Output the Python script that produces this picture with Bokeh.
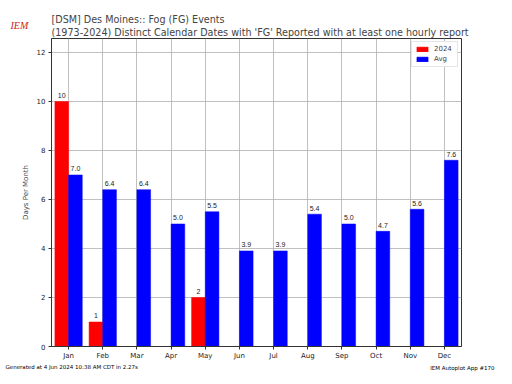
from bokeh.plotting import figure
from bokeh.models import FixedTicker, Label, Range1d, ColumnDataSource, LegendItem, Legend, Title
from bokeh.embed import file_html
from bokeh.resources import INLINE

months = ["Jan", "Feb", "Mar", "Apr", "May", "Jun", "Jul", "Aug", "Sep", "Oct", "Nov", "Dec"]
avg_days = [7.0, 6.4, 6.4, 5.0, 5.5, 3.9, 3.9, 5.4, 5.0, 4.7, 5.6, 7.6]
days_2024 = [10, 1, 0, 0, 2]
y_ticks = [0, 2, 4, 6, 8, 10, 12]

FONT = "DejaVu Sans"

xs = list(range(1, 13))
src_avg = ColumnDataSource(dict(x=[x + 0.2 for x in xs], top=avg_days,
                                lab=["%.1f" % v for v in avg_days],
                                ly=[v + 0.15 for v in avg_days]))
x24 = [i + 1 - 0.2 for i in range(len(days_2024))]
src_24 = ColumnDataSource(dict(x=x24, top=days_2024))
nz = [(x, v) for x, v in zip(x24, days_2024) if v > 0]
src_24lab = ColumnDataSource(dict(x=[a for a, b in nz], ly=[b + 0.15 for a, b in nz],
                                  lab=["%d" % b for a, b in nz]))

p = figure(width=496, height=368, output_backend="svg", toolbar_location=None,
           x_range=Range1d(0.5, 12.5), y_range=Range1d(0, 12.57),
           min_border_left=51, min_border_right=35, min_border_top=38, min_border_bottom=22)
p.frame_width = 410
p.frame_height = 308

r24 = p.vbar(x="x", top="top", width=0.4, source=src_24, fill_color="#ff0000", line_color="#ff0000", line_width=0.5)
ravg = p.vbar(x="x", top="top", width=0.4, source=src_avg, fill_color="#0000ff", line_color="#0000ff", line_width=0.5)

p.text(x="x", y="ly", text="lab", source=src_avg, text_align="center", text_baseline="bottom",
       text_font_size="7px", text_color="#222222")
p.text(x="x", y="ly", text="lab", source=src_24lab, text_align="center", text_baseline="bottom",
       text_font_size="7px", text_color="#222222")

p.xaxis.ticker = FixedTicker(ticks=xs)
p.xaxis.major_label_overrides = {i + 1: m for i, m in enumerate(months)}
p.xaxis.major_label_standoff = 2
p.yaxis.ticker = FixedTicker(ticks=y_ticks)
p.yaxis.major_label_standoff = 3
p.yaxis.axis_label = "Days Per Month"
p.yaxis.axis_label_standoff = 4
p.yaxis.axis_label_text_font_size = "7px"
p.yaxis.axis_label_text_font_style = "normal"
p.yaxis.axis_label_text_font = FONT
for ax in (p.xaxis, p.yaxis):
    ax.major_label_text_font_size = "7px"
    ax.major_label_text_font = FONT
    ax.major_label_text_color = "#222222"
    ax.minor_tick_line_color = None
    ax.major_tick_in = 0
    ax.major_tick_out = 3
    ax.axis_line_color = "#333333"
    ax.major_tick_line_color = "#333333"
p.outline_line_color = "#333333"
p.grid.grid_line_color = "#b0b0b0"
p.grid.grid_line_width = 0.8

legend = Legend(items=[LegendItem(label="2024", renderers=[r24]),
                       LegendItem(label="Avg", renderers=[ravg])],
                location="top_right")
legend.label_text_font_size = "7px"
legend.label_text_font = FONT
legend.glyph_width = 14
legend.glyph_height = 6
legend.label_height = 6
legend.spacing = 2
legend.padding = 3
legend.margin = 3
legend.border_line_color = "#cccccc"
p.add_layout(legend)

p.add_layout(Title(text="(1973-2024) Distinct Calendar Dates with 'FG' Reported with at least one hourly report",
                   align="left", text_font_size="9.6px", text_font=FONT, text_font_style="normal",
                   standoff=1), "above")
p.add_layout(Title(text="[DSM] Des Moines:: Fog (FG) Events",
                   align="left", text_font_size="9.6px", text_font=FONT, text_font_style="normal",
                   standoff=0), "above")

p.add_layout(Label(x=-46, y=-1, x_units="screen", y_units="screen",
                   text="Generated at 4 Jun 2024 10:38 AM CDT in 2.27s", text_font_size="5.5px",
                   text_font=FONT, text_color="#000000"), "below")
p.add_layout(Label(x=443, y=4, x_units="screen", y_units="screen", text_align="right",
                   text="IEM Autoplot App #170", text_font_size="5.5px",
                   text_font=FONT, text_color="#000000"), "below")
p.add_layout(Label(x=-41, y=-19, x_units="screen", y_units="screen",
                   text="IEM", text_font_size="10px", text_font="Liberation Serif",
                   text_font_style="italic", text_color="#d02020"), "above")

open("out.html", "w").write(file_html(p, INLINE))
